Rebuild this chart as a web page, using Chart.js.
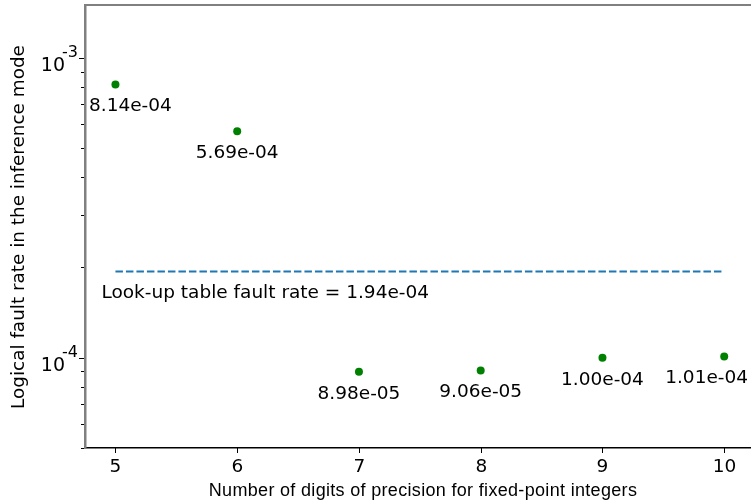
<!DOCTYPE html>
<html>
<head>
<meta charset="utf-8">
<script src="https://cdn.jsdelivr.net/npm/chart.js@4/dist/chart.umd.min.js"></script>
<style>
  html, body { margin: 0; padding: 0; background: #ffffff; }
  canvas { display: block; }
</style>
</head>
<body>
<canvas id="chart" width="751" height="502"></canvas>
<script>
// Precision of fixed-point integers (number of digits)
const digits = [5, 6, 7, 8, 9, 10];
// Logical fault rate measured in inference mode
const faultRates = [8.14e-4, 5.69e-4, 8.98e-5, 9.06e-5, 1.00e-4, 1.01e-4];
// Reference: look-up table fault rate
const lookupRate = 1.94e-4;
const lookupLabel = 'Look-up table fault rate = ';
const xTicks = [5, 6, 7, 8, 9, 10];
const yDecades = [-5, -4, -3, -2];
const xTitle = 'Number of digits of precision for fixed-point integers';
const yTitle = 'Logical fault rate in the inference mode';

// Format like "%.2e" with a two-digit exponent, e.g. 8.14e-04
function sci(v) {
  const [m, e] = v.toExponential(2).split('e');
  const n = parseInt(e, 10);
  const sign = n < 0 ? '-' : '+';
  return m + 'e' + sign + String(Math.abs(n)).padStart(2, '0');
}

const TICK_FONT = '18.5px "DejaVu Sans"';
const LABEL_FONT = '18.5px "DejaVu Sans"';

const decorations = {
  id: 'decorations',
  afterDraw(chart) {
    const ctx = chart.ctx;
    const area = chart.chartArea;
    const xs = chart.scales.x;
    const ys = chart.scales.y;
    ctx.save();

    // top spine
    ctx.strokeStyle = '#808080';
    ctx.lineWidth = 2;
    ctx.beginPath();
    ctx.moveTo(area.left - 1, area.top);
    ctx.lineTo(chart.width, area.top);
    ctx.stroke();

    // y ticks: majors at decades, minors at 2..9
    ctx.strokeStyle = '#000000';
    ctx.lineWidth = 1;
    yDecades.forEach(n => {
      for (let k = 1; k <= 9; k++) {
        const v = k * Math.pow(10, n);
        if (v < ys.min || v > ys.max) continue;
        const py = Math.round(ys.getPixelForValue(v)) + 0.5;
        const len = k === 1 ? 5 : 3;
        ctx.beginPath();
        ctx.moveTo(area.left - 1 - len, py);
        ctx.lineTo(area.left - 1, py);
        ctx.stroke();
        if (k === 1) {
          ctx.fillStyle = '#000000';
          ctx.font = '19px "DejaVu Sans"';
          ctx.textAlign = 'right';
          ctx.textBaseline = 'middle';
          ctx.fillText('10', 65, py + 8);
          ctx.font = '16px "DejaVu Sans"';
          ctx.textAlign = 'left';
          ctx.fillText('-' + Math.abs(n), 62, py - 6);
        }
      }
    });

    // x ticks
    ctx.font = TICK_FONT;
    ctx.textAlign = 'center';
    ctx.textBaseline = 'middle';
    ctx.fillStyle = '#000000';
    xTicks.forEach(t => {
      const px = Math.round(xs.getPixelForValue(t)) + 0.5;
      ctx.beginPath();
      ctx.moveTo(px, area.bottom);
      ctx.lineTo(px, area.bottom + 5);
      ctx.stroke();
      ctx.fillText(String(t), px, area.bottom + 19);
    });

    // axis titles
    ctx.save();
    ctx.font = '18px "Liberation Sans"';
    ctx.letterSpacing = '0.32px';
    ctx.textAlign = 'center';
    ctx.textBaseline = 'middle';
    ctx.fillText(xTitle, 423, 491);
    ctx.restore();
    ctx.save();
    ctx.translate(19, 227);
    ctx.rotate(-Math.PI / 2);
    ctx.font = '18.4px "DejaVu Sans"';
    ctx.textAlign = 'center';
    ctx.textBaseline = 'middle';
    ctx.fillText(yTitle, 0, 0);
    ctx.restore();

    // value labels below each point, kept inside the visible area
    ctx.font = LABEL_FONT;
    ctx.textBaseline = 'middle';
    ctx.textAlign = 'left';
    digits.forEach((d, i) => {
      const txt = sci(faultRates[i]);
      const w = ctx.measureText(txt).width;
      const cx = xs.getPixelForValue(d);
      let lx = cx - w / 2;
      lx = Math.max(lx, area.left + 4);
      lx = Math.min(lx, chart.width - 3 - w);
      ctx.fillText(txt, lx, ys.getPixelForValue(faultRates[i]) + 22);
    });

    // reference line label
    ctx.fillText(lookupLabel + sci(lookupRate), xs.getPixelForValue(4.885), ys.getPixelForValue(lookupRate) + 22);

    ctx.restore();
  }
};

new Chart(document.getElementById('chart'), {
  type: 'scatter',
  data: {
    datasets: [
      {
        type: 'line',
        data: [{ x: digits[0], y: lookupRate }, { x: digits[digits.length - 1], y: lookupRate }],
        borderColor: '#1f77b4',
        borderWidth: 2,
        borderDash: [7.5, 3],
        pointRadius: 0,
        fill: false
      },
      {
        data: digits.map((d, i) => ({ x: d, y: faultRates[i] })),
        backgroundColor: '#008000',
        borderColor: '#008000',
        pointRadius: 4,
        borderWidth: 0
      }
    ]
  },
  options: {
    responsive: false,
    animation: false,
    devicePixelRatio: 1,
    layout: { autoPadding: false, padding: { top: 5, left: 0, right: 0, bottom: 0 } },
    plugins: { legend: { display: false }, tooltip: { enabled: false } },
    scales: {
      x: {
        type: 'linear',
        min: 4.75,
        max: 10.22,
        grid: { display: false },
        ticks: { display: false },
        border: { display: true, color: '#000000', width: 1.5 },
        afterFit(s) { s.height = 54; }
      },
      y: {
        type: 'logarithmic',
        min: 5e-5,
        max: 1.5e-3,
        grid: { display: false },
        ticks: { display: false },
        border: { display: true, color: '#808080', width: 2.5 },
        afterFit(s) { s.width = 85; }
      }
    }
  },
  plugins: [decorations]
});
</script>
</body>
</html>
